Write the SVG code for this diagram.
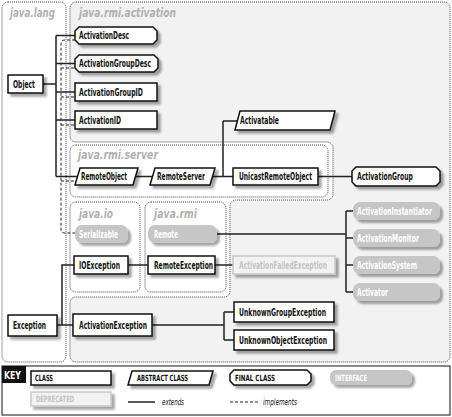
<svg xmlns="http://www.w3.org/2000/svg" width="452" height="417" viewBox="0 0 452 417">
<style>
.reg{stroke:#444;stroke-width:1;stroke-dasharray:1 1}
.rl{font-family:"DejaVu Sans Condensed","DejaVu Sans",sans-serif;font-weight:bold;font-style:italic;font-size:13px;fill:#b0b0b0}
.cls{fill:#fff;stroke:#111;stroke-width:1.5}
.dep{fill:#f2f2f2;stroke:#c8c8c8;stroke-width:1.5}
.ifc{fill:#c6c6c6}
.t{font-family:"DejaVu Sans Condensed","DejaVu Sans",sans-serif;font-weight:bold;font-size:10px;fill:#111}
.ti{fill:#fff}
.td{fill:#c4c4c4}
.k{font-size:8.5px}
.ki{font-family:"DejaVu Sans Condensed","DejaVu Sans",sans-serif;font-style:italic;font-size:9px;fill:#111}
.ln{fill:none;stroke:#222;stroke-width:1.5}
.dl{fill:none;stroke:#222;stroke-width:1;stroke-dasharray:3 2}
.sh{filter:url(#ds)}
</style>
<defs>
<filter id="ds" x="-20%" y="-30%" width="140%" height="170%">
<feDropShadow dx="3" dy="3" stdDeviation="1.3" flood-color="#000" flood-opacity="0.35"/>
</filter>
</defs>
<rect width="452" height="417" fill="#fff"/>
<g id="regions">
<rect id="java.lang" class="reg" x="2" y="2" width="64" height="360" rx="6" fill="#fff"/>
<path id="java.rmi.activation" class="reg" fill="#f2f2f2" d="M76,2 H444 A6,6 0 0 1 450,8 V356 A6,6 0 0 1 444,362 H76 A6,6 0 0 1 70,356 V303 A6,6 0 0 1 76,297 H224 A6,6 0 0 0 230,291 V206 A6,6 0 0 1 236,200 H327 A6,6 0 0 0 333,194 V148 A6,6 0 0 0 327,142 H76 A6,6 0 0 1 70,136 V8 A6,6 0 0 1 76,2 Z"/>
<rect id="java.rmi.server" class="reg" x="70" y="145" width="258" height="52" rx="6" fill="#fff"/>
<rect id="java.io" class="reg" x="70" y="202" width="70" height="90" rx="6" fill="#fff"/>
<rect id="java.rmi" class="reg" x="145" y="202" width="81" height="90" rx="6" fill="#fff"/>
<text class="rl" transform="translate(10,17) scale(0.7,1)" textLength="64.3" lengthAdjust="spacingAndGlyphs">java.lang</text>
<text class="rl" transform="translate(79,17) scale(0.7,1)" textLength="138.6" lengthAdjust="spacingAndGlyphs">java.rmi.activation</text>
<text class="rl" transform="translate(78,159) scale(0.7,1)" textLength="114.3" lengthAdjust="spacingAndGlyphs">java.rmi.server</text>
<text class="rl" transform="translate(79,218) scale(0.7,1)" textLength="48.6" lengthAdjust="spacingAndGlyphs">java.io</text>
<text class="rl" transform="translate(154,218) scale(0.7,1)" textLength="61.4" lengthAdjust="spacingAndGlyphs">java.rmi</text>
</g>
<g id="connectors">
<path class="dl" d="M75,40 H65 Q61,40 61,44 V229 Q61,233 65,233 H75 M61,68 H75 M61,97 H75 M61,125 H75 M61,181 H75"/>
<path class="ln" d="M43,84 H56 M56,35.5 V176.5 M56,35.5 H75 M56,63.5 H75 M56,92 H75 M56,120 H75 M56,176.5 H77"/>
<path class="ln" d="M136,176.5 H152 M213,176.5 H233 M223,121 V176.5 M223,121 H240 M318,176.5 H352"/>
<path class="ln" d="M217,234 H346 M346,211 V292 M346,211 H353 M346,238 H353 M346,265 H353 M346,292 H353"/>
<path class="ln" d="M128,265 H148 M215,265 H233"/>
<path class="ln" d="M57,325 H73 M62,325 V265 H74"/>
<path class="ln" d="M152,325 H224 M224,312 V340 M224,312 H234 M224,340 H234"/>
</g>
<g id="Object"><rect class="cls sh" x="8" y="75" width="35" height="18"/><text class="t" transform="translate(13,87.7) scale(0.7,1)" textLength="31.4" lengthAdjust="spacingAndGlyphs">Object</text></g>
<g id="ActivationDesc"><path class="cls sh" d="M79,27 H153 L157,31 V40 L153,44 H79 L75,40 V31 Z"/><text class="t" transform="translate(79,39.2) scale(0.7,1)" textLength="71.4" lengthAdjust="spacingAndGlyphs">ActivationDesc</text></g>
<g id="ActivationGroupDesc"><path class="cls sh" d="M79,55 H154 L158,59 V68 L154,72 H79 L75,68 V59 Z"/><text class="t" transform="translate(79,67.2) scale(0.7,1)" textLength="102.9" lengthAdjust="spacingAndGlyphs">ActivationGroupDesc</text></g>
<g id="ActivationGroupID"><rect class="cls sh" x="75" y="83" width="82" height="18"/><text class="t" transform="translate(79,95.7) scale(0.7,1)" textLength="91.4" lengthAdjust="spacingAndGlyphs">ActivationGroupID</text></g>
<g id="ActivationID"><rect class="cls sh" x="75" y="111" width="82" height="18"/><text class="t" transform="translate(79,123.7) scale(0.7,1)" textLength="60" lengthAdjust="spacingAndGlyphs">ActivationID</text></g>
<g id="Activatable"><path class="cls sh" d="M240,111 H335 L330,130 H235 Z"/><text class="t" transform="translate(240,124.2) scale(0.7,1)" textLength="55.7" lengthAdjust="spacingAndGlyphs">Activatable</text></g>
<g id="RemoteObject"><path class="cls sh" d="M80,168 H138 L133,185 H75 Z"/><text class="t" transform="translate(81,180.2) scale(0.7,1)" textLength="65.7" lengthAdjust="spacingAndGlyphs">RemoteObject</text></g>
<g id="RemoteServer"><path class="cls sh" d="M155,168 H215 L210,185 H150 Z"/><text class="t" transform="translate(157,180.2) scale(0.7,1)" textLength="68.6" lengthAdjust="spacingAndGlyphs">RemoteServer</text></g>
<g id="UnicastRemoteObject"><rect class="cls sh" x="233" y="168" width="85" height="17"/><text class="t" transform="translate(239,180.2) scale(0.7,1)" textLength="104.3" lengthAdjust="spacingAndGlyphs">UnicastRemoteObject</text></g>
<g id="ActivationGroup"><path class="cls sh" d="M356,167 H436 L440,171 V182 L436,186 H356 L352,182 V171 Z"/><text class="t" transform="translate(357,180.2) scale(0.7,1)" textLength="80" lengthAdjust="spacingAndGlyphs">ActivationGroup</text></g>
<g id="Serializable"><rect class="ifc sh" x="75" y="225" width="53" height="18" rx="7"/><text class="t ti" transform="translate(79,237.7) scale(0.7,1)" textLength="55.7" lengthAdjust="spacingAndGlyphs">Serializable</text></g>
<g id="Remote"><rect class="ifc sh" x="148" y="225" width="69" height="18" rx="7"/><text class="t ti" transform="translate(154,237.7) scale(0.7,1)" textLength="34.3" lengthAdjust="spacingAndGlyphs">Remote</text></g>
<g id="IOException"><rect class="cls sh" x="74" y="256" width="54" height="18"/><text class="t" transform="translate(79,268.7) scale(0.7,1)" textLength="58.6" lengthAdjust="spacingAndGlyphs">IOException</text></g>
<g id="RemoteException"><rect class="cls sh" x="148" y="256" width="67" height="18"/><text class="t" transform="translate(154,268.7) scale(0.7,1)" textLength="84.3" lengthAdjust="spacingAndGlyphs">RemoteException</text></g>
<g id="ActivationFailedException"><rect class="dep sh" x="233" y="256" width="102" height="18"/><text class="t td" transform="translate(239,268.7) scale(0.7,1)" textLength="125.7" lengthAdjust="spacingAndGlyphs">ActivationFailedException</text></g>
<g id="ActivationInstantiator"><rect class="ifc sh" x="353" y="202" width="87" height="18" rx="7"/><text class="t ti" transform="translate(357,214.7) scale(0.7,1)" textLength="107.1" lengthAdjust="spacingAndGlyphs">ActivationInstantiator</text></g>
<g id="ActivationMonitor"><rect class="ifc sh" x="353" y="229" width="87" height="18" rx="7"/><text class="t ti" transform="translate(357,241.7) scale(0.7,1)" textLength="88.6" lengthAdjust="spacingAndGlyphs">ActivationMonitor</text></g>
<g id="ActivationSystem"><rect class="ifc sh" x="353" y="256" width="87" height="18" rx="7"/><text class="t ti" transform="translate(357,268.7) scale(0.7,1)" textLength="85.7" lengthAdjust="spacingAndGlyphs">ActivationSystem</text></g>
<g id="Activator"><rect class="ifc sh" x="353" y="283" width="87" height="18" rx="7"/><text class="t ti" transform="translate(357,295.7) scale(0.7,1)" textLength="44.3" lengthAdjust="spacingAndGlyphs">Activator</text></g>
<g id="Exception"><rect class="cls sh" x="8" y="315" width="49" height="21"/><text class="t" transform="translate(13,329.2) scale(0.7,1)" textLength="47.1" lengthAdjust="spacingAndGlyphs">Exception</text></g>
<g id="ActivationException"><rect class="cls sh" x="73" y="314" width="79" height="22"/><text class="t" transform="translate(79,328.7) scale(0.7,1)" textLength="97.1" lengthAdjust="spacingAndGlyphs">ActivationException</text></g>
<g id="UnknownGroupException"><rect class="cls sh" x="234" y="302" width="100" height="20"/><text class="t" transform="translate(239,315.7) scale(0.7,1)" textLength="124.3" lengthAdjust="spacingAndGlyphs">UnknownGroupException</text></g>
<g id="UnknownObjectException"><rect class="cls sh" x="234" y="330" width="100" height="20"/><text class="t" transform="translate(239,343.7) scale(0.7,1)" textLength="125.7" lengthAdjust="spacingAndGlyphs">UnknownObjectException</text></g>
<g id="key">
<rect x="2" y="366" width="448" height="49" fill="#fff" stroke="#111" stroke-width="1"/>
<rect x="2" y="366" width="24" height="17" fill="#111"/>
<text class="t ti" transform="translate(4,378.5) scale(0.7,1)" textLength="24.3" lengthAdjust="spacingAndGlyphs">KEY</text>
<rect class="cls sh" x="31" y="371" width="80" height="14"/>
<text class="t k" transform="translate(35,381.2) scale(0.7,1)" textLength="25.7" lengthAdjust="spacingAndGlyphs">CLASS</text>
<path class="cls sh" d="M132,371 H213 L209,385 H128 Z"/>
<text class="t k" transform="translate(137,381.2) scale(0.7,1)" textLength="72.9" lengthAdjust="spacingAndGlyphs">ABSTRACT CLASS</text>
<path class="cls sh" d="M234,370 H307 L311,374 V381 L307,385 H234 L230,381 V374 Z"/>
<text class="t k" transform="translate(235,381) scale(0.7,1)" textLength="57.1" lengthAdjust="spacingAndGlyphs">FINAL CLASS</text>
<rect class="ifc sh" x="330" y="370" width="82" height="15" rx="6"/>
<text class="t k ti" transform="translate(335,381) scale(0.7,1)" textLength="45.7" lengthAdjust="spacingAndGlyphs">INTERFACE</text>
<rect class="dep sh" x="31" y="392" width="80" height="14"/>
<text class="t k td" transform="translate(36,402.2) scale(0.7,1)" textLength="54.3" lengthAdjust="spacingAndGlyphs">DEPRECATED</text>
<path class="ln" d="M128,402 H155"/>
<text class="ki" transform="translate(162,405) scale(0.7,1)" textLength="31.4" lengthAdjust="spacingAndGlyphs">extends</text>
<path class="dl" d="M230,402 H260"/>
<text class="ki" transform="translate(263,405) scale(0.7,1)" textLength="48.6" lengthAdjust="spacingAndGlyphs">implements</text>
</g>
</svg>
